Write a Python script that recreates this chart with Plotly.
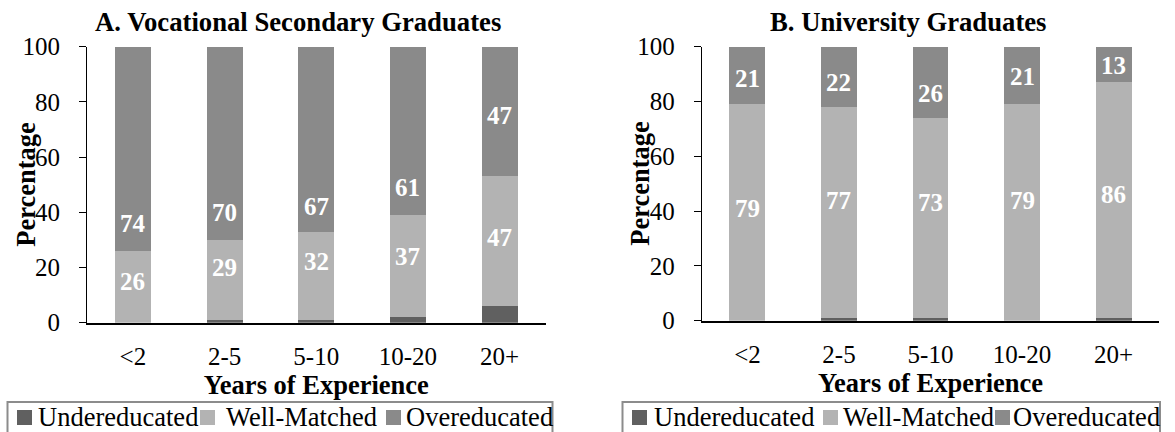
import plotly.graph_objects as go

# Years-of-experience groups
categories = ["<2", "2-5", "5-10", "10-20", "20+"]

# Panel A: vocational secondary graduates (percent)
voc_under = [0, 1, 1, 2, 6]
voc_well = [26, 29, 32, 37, 47]
voc_over = [74, 70, 67, 61, 47]

# Panel B: university graduates (percent)
uni_under = [0, 1, 1, 0, 1]
uni_well = [79, 77, 73, 79, 86]
uni_over = [21, 22, 26, 21, 13]

# Heights (in percent units) where the value labels sit
voc_well_label_y = [15, 20, 22, 24, 31]
voc_over_label_y = [36, 40, 42, 49, 75]
uni_well_label_y = [41, 44, 43, 44, 46]
uni_over_label_y = [88.5, 87, 83, 89, 93]

series_names = ["Undereducated", "Well-Matched", "Overeducated"]
colors = ["#606060", "#b3b3b3", "#8a8a8a"]

FONT = "Liberation Serif"
W, H = 1175, 432


def px_x(v):
    return v / W


def px_y(v):
    return 1 - v / H


fig = go.Figure()

panels = [
    ("x", "y", [voc_under, voc_well, voc_over]),
    ("x2", "y2", [uni_under, uni_well, uni_over]),
]
for xa, ya, series in panels:
    for name, vals, col in zip(series_names, series, colors):
        fig.add_trace(go.Bar(
            x=categories, y=vals, name=name, xaxis=xa, yaxis=ya,
            marker=dict(color=col, line=dict(width=0)),
            showlegend=False, hoverinfo="skip",
        ))

# value labels inside the bars
label_sets = [
    ("x", "y", voc_well, voc_well_label_y),
    ("x", "y", voc_over, voc_over_label_y),
    ("x2", "y2", uni_well, uni_well_label_y),
    ("x2", "y2", uni_over, uni_over_label_y),
]
annotations = []
shapes = []
for xa, ya, vals, ys in label_sets:
    for c, v, yy in zip(categories, vals, ys):
        annotations.append(dict(
            x=c, y=yy, xref=xa, yref=ya, text=f"<b>{v}</b>", showarrow=False,
            font=dict(family=FONT, size=25, color="white"),
            xanchor="center", yanchor="middle",
        ))

# panel titles
for cx, txt in [(298, "A. Vocational Secondary Graduates"), (908, "B. University Graduates")]:
    annotations.append(dict(x=px_x(cx), y=px_y(22), xref="paper", yref="paper",
                            text=f"<b>{txt}</b>", showarrow=False,
                            font=dict(family=FONT, size=26.7, color="black"),
                            xanchor="center", yanchor="middle"))

# rotated y-axis titles
for cx, cy in [(26, 184.7), (640, 183.7)]:
    annotations.append(dict(x=px_x(cx), y=px_y(cy), xref="paper", yref="paper",
                            text="<b>Percentage</b>", showarrow=False, textangle=-90,
                            font=dict(family=FONT, size=26.5, color="black"),
                            xanchor="center", yanchor="middle"))

# boxed legend under each panel: (box left, box right, [(square left, text left), ...])
legend_layouts = [
    (7.5, 552.5, [(17, 36), (200, 224), (386, 404)]),
    (622.5, 1160, [(632, 652), (823, 841), (995, 1011)]),
]
LEG_TOP = 402
for left, right, items in legend_layouts:
    shapes.append(dict(type="rect", xref="paper", yref="paper",
                       x0=px_x(left), x1=px_x(right), y0=px_y(LEG_TOP), y1=px_y(445),
                       line=dict(color="#8c8c8c", width=2), fillcolor="rgba(0,0,0,0)",
                       layer="above"))
    for (sq, tx), name, col in zip(items, series_names, colors):
        shapes.append(dict(type="rect", xref="paper", yref="paper",
                           x0=px_x(sq), x1=px_x(sq + 15), y0=px_y(425), y1=px_y(410),
                           line=dict(width=0), fillcolor=col))
        annotations.append(dict(x=px_x(tx), y=px_y(417), xref="paper", yref="paper",
                                text=name, showarrow=False,
                                font=dict(family=FONT, size=26.5, color="black"),
                                xanchor="left", yanchor="middle"))

xaxis_common = dict(
    showline=True, linecolor="black", linewidth=2, mirror=False,
    ticks="", showgrid=False, zeroline=False,
    tickfont=dict(family=FONT, size=25, color="black"),
    ticklabelstandoff=10,
    title=dict(text="<b>Years of Experience</b>", standoff=0,
               font=dict(family=FONT, size=26.5, color="black")),
)
yaxis_common = dict(
    range=[0, 100], tickvals=[0, 20, 40, 60, 80, 100],
    showline=True, linecolor="black", linewidth=1,
    ticks="outside", ticklen=7, tickcolor="black", tickwidth=1,
    showgrid=False, zeroline=False,
    tickfont=dict(family=FONT, size=25, color="black"),
    ticklabelstandoff=14,
)

fig.update_layout(
    width=W, height=H,
    margin=dict(l=0, r=0, t=0, b=0, autoexpand=False),
    paper_bgcolor="white", plot_bgcolor="white",
    barmode="stack", bargap=0.607,
    font=dict(family=FONT, color="black"),
    showlegend=False,
    xaxis=dict(domain=[87 / W, 545.5 / W], anchor="y", **xaxis_common),
    yaxis=dict(domain=[1 - 322.7 / H, 1 - 46.7 / H], anchor="x", **yaxis_common),
    xaxis2=dict(domain=[701.7 / W, 1159.3 / W], anchor="y2", **xaxis_common),
    yaxis2=dict(domain=[1 - 320.7 / H, 1 - 46.7 / H], anchor="x2", **yaxis_common),
    annotations=annotations,
    shapes=shapes,
)

fig.write_html("out.html")
